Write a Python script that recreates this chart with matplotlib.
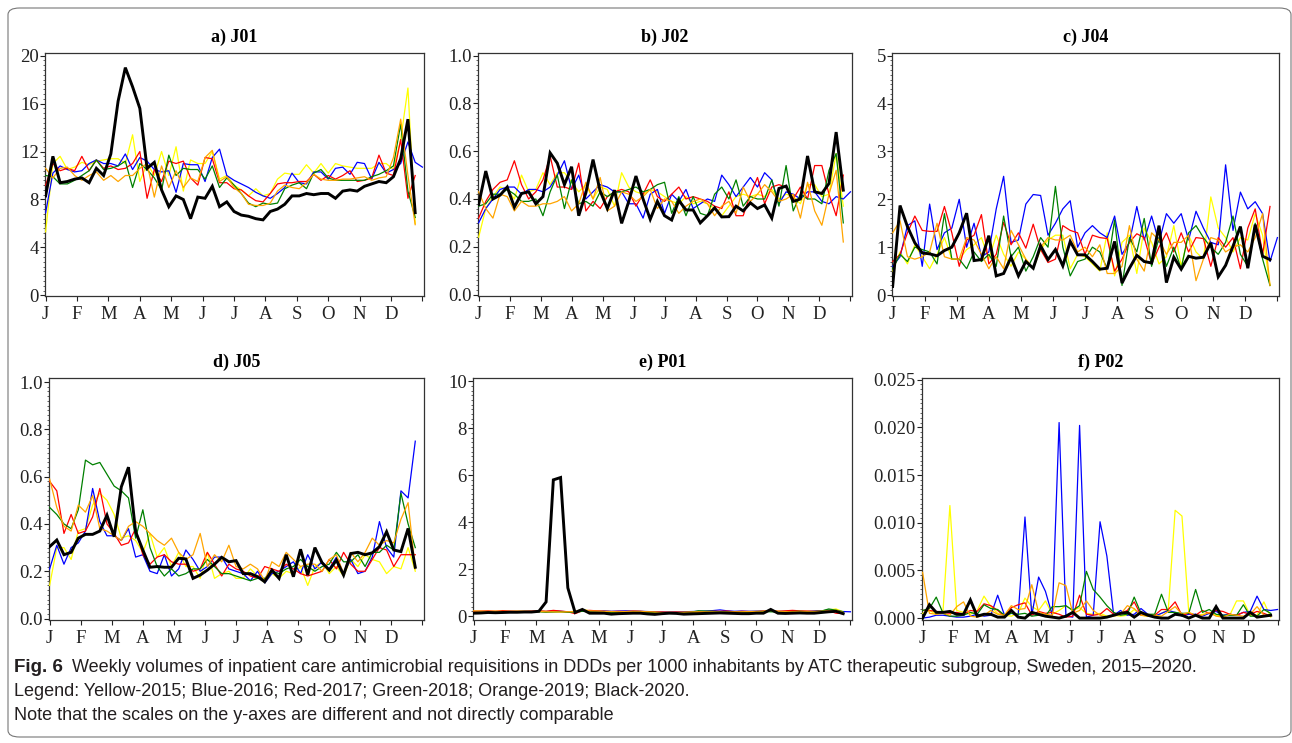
import numpy as np
import matplotlib
matplotlib.use("Agg")
import matplotlib.pyplot as plt
from matplotlib.ticker import AutoMinorLocator, FixedLocator
from matplotlib.patches import FancyBboxPatch

months = ["J", "F", "M", "A", "M", "J", "J", "A", "S", "O", "N", "D"]
years = ["2015", "2016", "2017", "2018", "2019", "2020"]
colors = {"2015": "#FFFF00", "2016": "#0000FF", "2017": "#FF0000",
          "2018": "#008000", "2019": "#FFA500", "2020": "#000000"}

# ---------------- a) J01 ----------------
j01_2015 = [5.3, 11.0, 11.6, 10.5, 10.7, 11.1, 10.9, 11.2, 11.3, 11.4, 11.4, 11.0, 13.4, 9.5, 11.0, 10.0, 12.0, 10.0, 12.4, 8.7,
            11.3, 11.0, 11.0, 12.0, 9.7, 10.0, 9.2, 8.8, 8.3, 8.9, 8.3, 8.5, 9.7, 10.2, 10.1, 10.1, 10.9, 10.2, 11.0, 10.2,
            11.0, 10.8, 10.7, 10.6, 10.6, 10.6, 11.0, 11.0, 10.5, 13.0, 17.3, 6.0]
j01_2016 = [6.9, 10.2, 10.8, 10.5, 10.3, 10.4, 11.0, 11.3, 11.0, 11.0, 10.8, 11.8, 10.5, 11.5, 11.2, 10.5, 10.3, 10.4, 8.6, 11.0,
            10.9, 10.9, 9.5, 11.5, 12.2, 10.0, 9.6, 9.3, 9.0, 8.6, 8.3, 8.1, 8.5, 9.0, 10.2, 9.4, 9.3, 10.3, 10.3, 9.7,
            10.6, 10.7, 10.1, 11.1, 11.0, 9.7, 11.1, 10.2, 10.5, 11.0, 12.8, 11.1, 10.7]
j01_2017 = [9.2, 11.0, 10.4, 10.6, 10.4, 11.6, 10.4, 11.3, 10.6, 10.8, 10.5, 10.6, 11.0, 12.0, 8.1, 10.5, 9.5, 11.2, 11.0, 11.2,
            9.8, 9.2, 11.5, 11.4, 9.4, 9.4, 8.9, 8.8, 8.3, 7.9, 7.8, 8.5, 9.3, 9.4, 9.4, 9.5, 9.5, 10.1, 9.6, 10.0,
            9.7, 10.0, 10.4, 9.5, 9.6, 9.8, 11.7, 10.2, 10.0, 13.0, 8.1, 10.0]
j01_2018 = [10.0, 9.9, 9.3, 9.3, 9.6, 10.0, 10.4, 11.3, 10.5, 10.6, 10.8, 11.2, 9.0, 11.0, 10.5, 9.8, 8.8, 11.7, 10.0, 10.6,
            10.5, 10.5, 9.7, 10.8, 9.0, 9.8, 9.2, 8.5, 7.7, 7.4, 7.7, 7.6, 7.7, 8.9, 9.2, 9.4, 8.9, 10.2, 10.5, 9.8,
            9.6, 9.6, 9.6, 9.6, 9.6, 9.9, 10.1, 10.4, 10.8, 14.3, 8.7, 6.5]
j01_2019 = [10.6, 9.8, 10.6, 10.7, 10.0, 9.6, 10.0, 10.3, 9.6, 10.0, 9.5, 10.0, 10.0, 10.6, 11.0, 8.2, 10.8, 9.0, 10.4, 9.0,
            9.8, 9.5, 11.5, 12.1, 9.5, 9.9, 9.0, 8.5, 7.6, 7.5, 7.5, 7.7, 8.7, 9.2, 9.0, 8.9, 9.4, 10.1, 9.7, 9.6,
            9.6, 9.7, 9.7, 9.8, 9.9, 9.6, 9.8, 9.9, 11.5, 14.7, 10.0, 5.9]
j01_2020 = [8.3, 11.6, 9.4, 9.5, 9.7, 9.8, 9.4, 10.6, 10.0, 11.8, 16.2, 19.0, 17.4, 15.6, 10.6, 11.1, 8.8, 7.4, 8.3, 8.0,
            6.4, 8.2, 8.1, 9.1, 7.4, 7.8, 7.0, 6.7, 6.6, 6.4, 6.3, 7.0, 7.2, 7.6, 8.3, 8.3, 8.5, 8.4, 8.5, 8.5,
            8.1, 8.7, 8.8, 8.7, 9.1, 9.3, 9.5, 9.4, 9.9, 11.4, 14.7, 6.9]

# ---------------- b) J02 ----------------
j02_2015 = [0.24, 0.36, 0.41, 0.45, 0.44, 0.40, 0.50, 0.43, 0.44, 0.51, 0.46, 0.51, 0.51, 0.47, 0.43, 0.46, 0.40, 0.45, 0.44, 0.37,
            0.51, 0.45, 0.43, 0.42, 0.44, 0.43, 0.41, 0.39, 0.38, 0.41, 0.38, 0.39, 0.38, 0.36, 0.33, 0.37, 0.41, 0.42, 0.41, 0.42,
            0.41, 0.44, 0.40, 0.42, 0.41, 0.38, 0.46, 0.46, 0.41, 0.42, 0.59, 0.37]
j02_2016 = [0.30, 0.36, 0.40, 0.44, 0.45, 0.45, 0.42, 0.44, 0.44, 0.43, 0.45, 0.50, 0.56, 0.44, 0.50, 0.40, 0.43, 0.46, 0.45, 0.43,
            0.43, 0.38, 0.38, 0.32, 0.42, 0.44, 0.34, 0.42, 0.39, 0.44, 0.36, 0.38, 0.40, 0.39, 0.50, 0.46, 0.41, 0.45, 0.49, 0.45,
            0.51, 0.48, 0.38, 0.43, 0.42, 0.40, 0.43, 0.43, 0.39, 0.38, 0.41, 0.40, 0.43]
j02_2017 = [0.32, 0.39, 0.44, 0.47, 0.48, 0.56, 0.46, 0.40, 0.43, 0.48, 0.58, 0.45, 0.45, 0.44, 0.55, 0.35, 0.39, 0.36, 0.41, 0.43,
            0.44, 0.43, 0.37, 0.42, 0.48, 0.41, 0.39, 0.42, 0.45, 0.40, 0.41, 0.40, 0.39, 0.37, 0.36, 0.43, 0.33, 0.33, 0.42, 0.49,
            0.38, 0.45, 0.46, 0.45, 0.40, 0.45, 0.40, 0.54, 0.54, 0.42, 0.33, 0.50]
j02_2018 = [0.37, 0.38, 0.42, 0.42, 0.44, 0.42, 0.39, 0.39, 0.40, 0.33, 0.43, 0.50, 0.36, 0.48, 0.38, 0.39, 0.37, 0.43, 0.41, 0.43,
            0.43, 0.44, 0.45, 0.43, 0.44, 0.46, 0.47, 0.34, 0.41, 0.33, 0.41, 0.34, 0.33, 0.42, 0.45, 0.40, 0.48, 0.37, 0.41, 0.40,
            0.40, 0.48, 0.37, 0.54, 0.35, 0.42, 0.40, 0.40, 0.38, 0.52, 0.59, 0.30]
j02_2019 = [0.43, 0.36, 0.32, 0.42, 0.41, 0.35, 0.39, 0.37, 0.37, 0.38, 0.38, 0.39, 0.41, 0.35, 0.38, 0.47, 0.40, 0.49, 0.35, 0.37,
            0.43, 0.42, 0.39, 0.41, 0.44, 0.36, 0.40, 0.39, 0.34, 0.37, 0.39, 0.40, 0.38, 0.33, 0.37, 0.39, 0.34, 0.45, 0.39, 0.42,
            0.46, 0.43, 0.39, 0.40, 0.42, 0.32, 0.47, 0.35, 0.29, 0.42, 0.52, 0.22]
j02_2020 = [0.377, 0.517, 0.40, 0.416, 0.45, 0.366, 0.423, 0.43, 0.38, 0.41, 0.593, 0.55, 0.46, 0.535, 0.33, 0.426, 0.565, 0.433, 0.36, 0.437,
            0.298, 0.39, 0.496, 0.40, 0.315, 0.39, 0.33, 0.312, 0.394, 0.354, 0.354, 0.30, 0.33, 0.363, 0.325, 0.326, 0.37, 0.35, 0.384, 0.36,
            0.375, 0.32, 0.444, 0.454, 0.39, 0.40, 0.58, 0.43, 0.423, 0.465, 0.68, 0.437]

# ---------------- c) J04 ----------------
j04_2015 = [0.5, 0.9, 0.65, 1.05, 0.8, 0.55, 0.85, 1.2, 0.75, 0.75, 0.95, 1.05, 1.2, 0.75, 1.25, 0.85, 0.6, 0.9, 0.75, 0.55,
            0.95, 1.15, 1.25, 1.25, 0.55, 0.85, 0.8, 0.65, 0.5, 1.3, 0.4, 1.1, 1.25, 0.45, 1.4, 1.1, 0.65, 0.8, 1.45, 0.6,
            1.25, 0.9, 0.75, 2.05, 1.4, 1.2, 0.9, 1.2, 1.15, 1.7, 1.25, 0.2]
j04_2016 = [0.6, 0.8, 1.45, 1.55, 0.6, 1.9, 0.95, 1.3, 1.4, 2.0, 1.0, 1.5, 0.8, 0.9, 1.8, 2.48, 1.1, 1.15, 1.9, 2.1,
            2.08, 1.25, 1.5, 1.8, 1.97, 1.0, 1.3, 1.45, 1.3, 1.2, 1.65, 0.85, 1.1, 1.85, 1.15, 1.65, 1.1, 1.7, 1.5, 1.7,
            1.15, 1.75, 1.4, 1.1, 1.05, 2.72, 1.35, 2.15, 1.8, 1.95, 1.7, 0.7, 1.2]
j04_2017 = [0.7, 0.85, 1.3, 1.65, 1.35, 1.33, 1.33, 1.85, 1.3, 0.6, 1.15, 1.25, 1.68, 0.65, 0.85, 1.52, 1.05, 1.3, 0.98, 1.48,
            0.95, 0.68, 0.75, 1.45, 1.35, 1.3, 0.85, 1.25, 1.2, 1.18, 0.5, 0.75, 1.1, 1.28, 1.2, 0.65, 1.0, 1.3, 0.9, 1.3,
            0.9, 1.2, 1.18, 0.6, 1.2, 1.0, 1.2, 0.55, 1.4, 1.8, 0.85, 1.85]
j04_2018 = [0.55, 0.85, 0.7, 1.0, 0.95, 0.9, 0.65, 1.7, 0.75, 0.75, 0.55, 0.9, 0.7, 0.85, 0.6, 1.65, 0.8, 1.0, 0.5, 0.8,
            1.2, 1.0, 2.27, 1.0, 0.4, 0.7, 0.75, 1.0, 0.9, 0.55, 1.57, 0.2, 1.2, 0.9, 1.6, 0.6, 1.2, 0.6, 1.0, 0.55,
            1.3, 1.45, 1.2, 1.0, 0.85, 1.1, 1.65, 0.85, 0.6, 1.5, 0.75, 0.2]
j04_2019 = [1.3, 1.55, 0.8, 0.75, 0.8, 0.9, 1.5, 0.8, 0.75, 0.75, 1.2, 1.15, 0.85, 0.55, 0.8, 0.55, 1.35, 1.05, 0.75, 0.55,
            1.0, 1.2, 1.15, 1.15, 1.25, 0.9, 1.0, 0.8, 1.05, 0.45, 0.45, 0.6, 1.45, 0.75, 0.5, 1.3, 1.15, 0.85, 1.1, 1.1,
            1.25, 0.3, 0.75, 1.2, 1.15, 0.9, 1.0, 1.05, 0.9, 1.2, 1.7, 0.2]
j04_2020 = [0.18, 1.87, 1.43, 1.09, 0.88, 0.86, 0.82, 0.93, 1.0, 1.30, 1.71, 0.72, 0.74, 1.24, 0.40, 0.45, 0.79, 0.40, 0.70, 0.56,
            1.03, 0.74, 0.95, 0.61, 1.12, 0.84, 0.84, 0.70, 0.54, 0.56, 1.12, 0.25, 0.56, 0.83, 0.70, 0.67, 1.45, 0.26, 0.79, 0.54,
            0.81, 0.77, 0.79, 1.09, 0.38, 0.62, 1.02, 1.43, 0.56, 1.47, 0.81, 0.74]

# ---------------- d) J05 ----------------
j05_2015 = [0.14, 0.30, 0.30, 0.25, 0.37, 0.38, 0.48, 0.53, 0.50, 0.44, 0.34, 0.35, 0.33, 0.28, 0.36, 0.26, 0.30, 0.22, 0.28, 0.22,
            0.22, 0.17, 0.28, 0.17, 0.19, 0.20, 0.17, 0.17, 0.21, 0.18, 0.15, 0.19, 0.17, 0.20, 0.19, 0.22, 0.14, 0.22, 0.24, 0.19,
            0.22, 0.18, 0.25, 0.22, 0.27, 0.25, 0.24, 0.19, 0.22, 0.21, 0.30, 0.20]
j05_2016 = [0.21, 0.31, 0.23, 0.30, 0.32, 0.37, 0.55, 0.41, 0.35, 0.35, 0.33, 0.38, 0.26, 0.27, 0.20, 0.19, 0.27, 0.18, 0.21, 0.29,
            0.25, 0.20, 0.22, 0.26, 0.26, 0.21, 0.20, 0.19, 0.16, 0.20, 0.15, 0.19, 0.20, 0.22, 0.24, 0.19, 0.27, 0.21, 0.24, 0.21,
            0.26, 0.19, 0.25, 0.19, 0.20, 0.26, 0.41, 0.30, 0.26, 0.54, 0.51, 0.75]
j05_2017 = [0.58, 0.54, 0.36, 0.44, 0.36, 0.37, 0.43, 0.55, 0.40, 0.36, 0.31, 0.32, 0.38, 0.27, 0.23, 0.26, 0.27, 0.24, 0.23, 0.23,
            0.20, 0.21, 0.28, 0.23, 0.18, 0.23, 0.21, 0.20, 0.18, 0.17, 0.22, 0.21, 0.20, 0.23, 0.21, 0.19, 0.18, 0.19, 0.20, 0.25,
            0.21, 0.28, 0.23, 0.20, 0.20, 0.25, 0.30, 0.29, 0.22, 0.27, 0.27, 0.27]
j05_2018 = [0.47, 0.44, 0.40, 0.38, 0.46, 0.67, 0.65, 0.66, 0.61, 0.56, 0.54, 0.51, 0.34, 0.46, 0.30, 0.22, 0.18, 0.21, 0.18, 0.19,
            0.21, 0.21, 0.25, 0.22, 0.19, 0.19, 0.18, 0.17, 0.16, 0.17, 0.17, 0.20, 0.19, 0.21, 0.22, 0.25, 0.22, 0.20, 0.22, 0.23,
            0.28, 0.24, 0.24, 0.27, 0.22, 0.28, 0.28, 0.31, 0.29, 0.53, 0.40, 0.30]
j05_2019 = [0.59, 0.47, 0.39, 0.37, 0.48, 0.45, 0.52, 0.38, 0.37, 0.35, 0.33, 0.39, 0.41, 0.39, 0.36, 0.33, 0.31, 0.34, 0.28, 0.25,
            0.27, 0.36, 0.22, 0.27, 0.24, 0.31, 0.22, 0.21, 0.23, 0.21, 0.16, 0.24, 0.22, 0.28, 0.25, 0.22, 0.23, 0.23, 0.20, 0.25,
            0.27, 0.19, 0.28, 0.24, 0.28, 0.34, 0.31, 0.33, 0.32, 0.42, 0.49, 0.21]
j05_2020 = [0.304, 0.332, 0.27, 0.28, 0.34, 0.356, 0.356, 0.37, 0.437, 0.346, 0.557, 0.64, 0.367, 0.29, 0.217, 0.22, 0.217, 0.217, 0.255, 0.252,
            0.17, 0.184, 0.205, 0.23, 0.259, 0.24, 0.245, 0.19, 0.19, 0.177, 0.156, 0.205, 0.17, 0.27, 0.177, 0.293, 0.184, 0.30, 0.236, 0.205,
            0.247, 0.184, 0.275, 0.28, 0.27, 0.278, 0.304, 0.367, 0.29, 0.283, 0.381, 0.217]

# ---------------- e) P01 ----------------
p01_2015 = [0.18, 0.18, 0.19, 0.19, 0.18, 0.19, 0.19, 0.20, 0.20, 0.21, 0.20, 0.19, 0.18, 0.18, 0.20, 0.28, 0.22, 0.20, 0.19, 0.18,
            0.17, 0.18, 0.19, 0.20, 0.18, 0.17, 0.16, 0.17, 0.16, 0.15, 0.16, 0.17, 0.18, 0.19, 0.18, 0.18, 0.17, 0.18, 0.17, 0.19,
            0.20, 0.22, 0.20, 0.18, 0.19, 0.19, 0.20, 0.20, 0.22, 0.26, 0.30, 0.18]
p01_2016 = [0.16, 0.17, 0.18, 0.18, 0.19, 0.18, 0.18, 0.19, 0.19, 0.20, 0.19, 0.22, 0.20, 0.18, 0.19, 0.20, 0.21, 0.20, 0.22, 0.20,
            0.21, 0.22, 0.21, 0.20, 0.19, 0.18, 0.17, 0.16, 0.17, 0.18, 0.19, 0.20, 0.21, 0.23, 0.26, 0.22, 0.20, 0.21, 0.20, 0.21,
            0.22, 0.22, 0.19, 0.20, 0.21, 0.20, 0.19, 0.21, 0.22, 0.25, 0.20, 0.19, 0.18]
p01_2017 = [0.20, 0.21, 0.22, 0.20, 0.23, 0.21, 0.20, 0.20, 0.21, 0.22, 0.20, 0.24, 0.21, 0.18, 0.10, 0.22, 0.24, 0.22, 0.20, 0.19,
            0.20, 0.19, 0.21, 0.20, 0.18, 0.17, 0.17, 0.16, 0.17, 0.16, 0.17, 0.18, 0.19, 0.20, 0.20, 0.21, 0.18, 0.20, 0.19, 0.18,
            0.21, 0.22, 0.20, 0.22, 0.24, 0.22, 0.21, 0.20, 0.21, 0.22, 0.12, 0.10]
p01_2018 = [0.15, 0.16, 0.17, 0.17, 0.16, 0.17, 0.18, 0.17, 0.18, 0.18, 0.16, 0.17, 0.18, 0.16, 0.17, 0.20, 0.18, 0.17, 0.16, 0.15,
            0.16, 0.17, 0.18, 0.17, 0.16, 0.15, 0.14, 0.13, 0.14, 0.15, 0.16, 0.22, 0.21, 0.20, 0.18, 0.17, 0.16, 0.17, 0.16, 0.18,
            0.19, 0.18, 0.17, 0.18, 0.19, 0.20, 0.18, 0.19, 0.21, 0.30, 0.25, 0.18]
p01_2019 = [0.22, 0.21, 0.20, 0.21, 0.20, 0.20, 0.21, 0.20, 0.19, 0.19, 0.18, 0.18, 0.17, 0.18, 0.19, 0.25, 0.22, 0.21, 0.20, 0.19,
            0.18, 0.19, 0.20, 0.19, 0.18, 0.17, 0.15, 0.14, 0.15, 0.16, 0.17, 0.18, 0.17, 0.18, 0.17, 0.16, 0.17, 0.18, 0.19, 0.20,
            0.21, 0.24, 0.20, 0.19, 0.18, 0.20, 0.19, 0.18, 0.20, 0.22, 0.24, 0.15]
p01_2020 = [0.12, 0.13, 0.15, 0.14, 0.15, 0.16, 0.16, 0.17, 0.17, 0.20, 0.60, 5.80, 5.90, 1.20, 0.15, 0.28, 0.12, 0.12, 0.12, 0.08,
            0.10, 0.11, 0.12, 0.12, 0.09, 0.07, 0.10, 0.12, 0.11, 0.08, 0.09, 0.10, 0.11, 0.12, 0.13, 0.12, 0.11, 0.10, 0.10, 0.12,
            0.12, 0.28, 0.12, 0.11, 0.12, 0.13, 0.12, 0.12, 0.15, 0.18, 0.20, 0.10]

# ---------------- f) P02 ----------------
p02_2015 = [0.0005, 0.0008, 0.0004, 0.0008, 0.0118, 0.0008, 0.0006, 0.0004, 0.0008, 0.0023, 0.0012, 0.0005, 0.0003, 0.0002, 0.0005, 0.0021, 0.0012, 0.0008, 0.0018, 0.0004,
            0.0008, 0.0013, 0.0008, 0.0011, 0.0005, 0.0004, 0.0005, 0.0002, 0.0003, 0.0002, 0.0003, 0.0009, 0.0003, 0.0002, 0.0002, 0.0005, 0.0009, 0.0113, 0.0107, 0.0006,
            0.0002, 0.0004, 0.0005, 0.0003, 0.0002, 0.0003, 0.0018, 0.0018, 0.0003, 0.0003, 0.0017, 0.0001]
p02_2016 = [0.0000, 0.0001, 0.0003, 0.0003, 0.0002, 0.0001, 0.0001, 0.0002, 0.0004, 0.0002, 0.0003, 0.0024, 0.0003, 0.0005, 0.0003, 0.0106, 0.0003, 0.0043, 0.0028, 0.0003,
            0.0205, 0.0002, 0.0001, 0.0202, 0.0001, 0.0003, 0.0101, 0.0065, 0.0003, 0.0008, 0.0003, 0.0004, 0.0010, 0.0004, 0.0002, 0.0005, 0.0008, 0.0006, 0.0002, 0.0004,
            0.0004, 0.0002, 0.0005, 0.0007, 0.0003, 0.0004, 0.0003, 0.0006, 0.0007, 0.0023, 0.0009, 0.0008, 0.0009]
p02_2017 = [0.0008, 0.0008, 0.0007, 0.0006, 0.0005, 0.0006, 0.0004, 0.0008, 0.0007, 0.0015, 0.0013, 0.0008, 0.0002, 0.0011, 0.0014, 0.0016, 0.0003, 0.0007, 0.0005, 0.0006,
            0.0004, 0.0001, 0.0002, 0.0024, 0.0004, 0.0003, 0.0004, 0.0010, 0.0004, 0.0005, 0.0008, 0.0017, 0.0003, 0.0004, 0.0003, 0.0009, 0.0009, 0.0017, 0.0003, 0.0005,
            0.0003, 0.0008, 0.0005, 0.0008, 0.0007, 0.0004, 0.0003, 0.0006, 0.0004, 0.0007, 0.0005, 0.0002]
p02_2018 = [0.0008, 0.0010, 0.0022, 0.0005, 0.0002, 0.0002, 0.0003, 0.0006, 0.0004, 0.0014, 0.0010, 0.0009, 0.0003, 0.0005, 0.0004, 0.0005, 0.0002, 0.0003, 0.0002, 0.0012,
            0.0012, 0.0013, 0.0008, 0.0013, 0.0049, 0.0030, 0.0022, 0.0013, 0.0006, 0.0003, 0.0004, 0.0022, 0.0005, 0.0004, 0.0004, 0.0025, 0.0006, 0.0006, 0.0005, 0.0005,
            0.0030, 0.0006, 0.0009, 0.0004, 0.0003, 0.0003, 0.0003, 0.0014, 0.0002, 0.0002, 0.0009, 0.0005]
p02_2019 = [0.0048, 0.0005, 0.0004, 0.0005, 0.0003, 0.0012, 0.0017, 0.0002, 0.0001, 0.0003, 0.0008, 0.0004, 0.0003, 0.0013, 0.0009, 0.0010, 0.0035, 0.0006, 0.0004, 0.0003,
            0.0037, 0.0034, 0.0005, 0.0008, 0.0018, 0.0008, 0.0003, 0.0001, 0.0002, 0.0004, 0.0013, 0.0010, 0.0003, 0.0002, 0.0003, 0.0002, 0.0007, 0.0012, 0.0004, 0.0006,
            0.0003, 0.0003, 0.0006, 0.0002, 0.0001, 0.0004, 0.0003, 0.0002, 0.0004, 0.0012, 0.0003, 0.0002]
p02_2020 = [0.0000, 0.0014, 0.0006, 0.0006, 0.0007, 0.0004, 0.0004, 0.0019, 0.0002, 0.0004, 0.0004, 0.0001, 0.0001, 0.0008, 0.0001, 0.0000, 0.0006, 0.0004, 0.0002, 0.0001,
            0.0000, 0.0002, 0.0006, 0.0000, 0.0000, 0.0000, 0.0000, 0.0001, 0.0003, 0.0005, 0.0006, 0.0001, 0.0006, 0.0003, 0.0001, 0.0000, 0.0000, 0.0004, 0.0003, 0.0000,
            0.0003, 0.0000, 0.0000, 0.0012, 0.0000, 0.0000, 0.0000, 0.0000, 0.0006, 0.0001, 0.0002, 0.0003]

panel_titles = ["a) J01", "b) J02", "c) J04", "d) J05", "e) P01", "f) P02"]
panel_data = [
    [j01_2015, j01_2016, j01_2017, j01_2018, j01_2019, j01_2020],
    [j02_2015, j02_2016, j02_2017, j02_2018, j02_2019, j02_2020],
    [j04_2015, j04_2016, j04_2017, j04_2018, j04_2019, j04_2020],
    [j05_2015, j05_2016, j05_2017, j05_2018, j05_2019, j05_2020],
    [p01_2015, p01_2016, p01_2017, p01_2018, p01_2019, p01_2020],
    [p02_2015, p02_2016, p02_2017, p02_2018, p02_2019, p02_2020],
]
y_ticks = [
    [0, 4, 8, 12, 16, 20],
    [0.0, 0.2, 0.4, 0.6, 0.8, 1.0],
    [0, 1, 2, 3, 4, 5],
    [0.0, 0.2, 0.4, 0.6, 0.8, 1.0],
    [0, 2, 4, 6, 8, 10],
    [0.000, 0.005, 0.010, 0.015, 0.020, 0.025],
]
y_fmt = ["{:.0f}", "{:.1f}", "{:.0f}", "{:.1f}", "{:.0f}", "{:.3f}"]
y_lims = [(-0.05, 20.22), (-0.006, 1.011), (-0.02, 5.056), (-0.006, 1.017), (-0.17, 10.14), (-0.0002, 0.02517)]

W, H = 1292, 743
# axes boxes in pixels: left, top, right, bottom
boxes = [(45, 53, 424, 296), (478, 53, 852, 296), (892, 53, 1279, 296),
         (49, 378, 424, 620), (473, 378, 852, 620), (922, 378, 1279, 620)]

serif = ["Liberation Serif", "DejaVu Serif"]
fig = plt.figure(figsize=(W / 100, H / 100), dpi=100)

for i, (l, t, r, b) in enumerate(boxes):
    ax = fig.add_axes([l / W, 1 - b / H, (r - l) / W, (b - t) / H])
    for yr, vals in zip(years, panel_data[i]):
        v = np.asarray(vals, dtype=float)
        x = np.arange(len(v)) * 12.0 / 52.0
        if yr == "2020":
            ax.plot(x, v, color=colors[yr], lw=2.1, zorder=5, solid_joinstyle="miter")
        else:
            ax.plot(x, v, color=colors[yr], lw=0.9, zorder=3)
    ax.set_xlim(-0.02, 12.05)
    ax.set_ylim(*y_lims[i])
    ax.xaxis.set_major_locator(FixedLocator(list(range(13))))
    ax.set_xticklabels(months + [""], fontfamily=serif, fontsize=13.5)
    ax.set_yticks(y_ticks[i])
    ax.set_yticklabels([y_fmt[i].format(v) for v in y_ticks[i]], fontfamily=serif, fontsize=13.5)
    ax.yaxis.set_minor_locator(AutoMinorLocator(10))
    ax.tick_params(axis="x", direction="out", length=3.5, width=0.8, pad=4, colors="#222222")
    ax.tick_params(axis="y", which="major", direction="out", length=3.5, width=0.8, pad=1, colors="#222222")
    ax.tick_params(axis="y", which="minor", direction="out", length=1.5, width=0.5, colors="#222222")
    for sp in ax.spines.values():
        sp.set_linewidth(0.9)
        sp.set_color("#333333")
    ax.set_title(panel_titles[i], fontfamily=serif, fontweight="bold", fontsize=13, pad=8)

# outer rounded frame
frame = FancyBboxPatch((8 / W, 6 / H), (1283 / W), (729 / H),
                       boxstyle="round,pad=0,rounding_size=0.009", transform=fig.transFigure,
                       fill=False, edgecolor="#777777", lw=0.8)
fig.patches.append(frame)

cap_family = ["Liberation Sans", "DejaVu Sans"]
fs = 13.0
t1 = fig.text(14 / W, 1 - 667 / H, "Fig. 6", fontfamily=cap_family, fontweight="bold", fontsize=fs + 0.5,
              va="center", ha="left", color="#231f20")
fig.canvas.draw()
bb = t1.get_window_extent()
t2 = fig.text((bb.x1 + 9) / W, 1 - 667 / H,
              "Weekly volumes of inpatient care antimicrobial requisitions in DDDs per 1000 inhabitants by ATC therapeutic subgroup, Sweden, 2015\u20132020.",
              fontfamily=cap_family, fontsize=fs, va="center", ha="left", color="#231f20")
t3 = fig.text(14 / W, 1 - 691 / H, "Legend: Yellow-2015; Blue-2016; Red-2017; Green-2018; Orange-2019; Black-2020.",
              fontfamily=cap_family, fontsize=fs, va="center", ha="left", color="#231f20")
t4 = fig.text(14 / W, 1 - 716 / H, "Note that the scales on the y-axes are different and not directly comparable",
              fontfamily=cap_family, fontsize=fs, va="center", ha="left", color="#231f20")
# keep the first caption line within the frame
fig.canvas.draw()
x_end = t2.get_window_extent().x1
if x_end > 1280:
    scale = (1278 - 14) / (x_end - 14)
    for t in (t1, t2, t3, t4):
        t.set_fontsize(t.get_fontsize() * scale)
    fig.canvas.draw()
    bb = t1.get_window_extent()
    t2.set_x((bb.x1 + 9) / W)

fig.savefig("out.png", dpi=100)
